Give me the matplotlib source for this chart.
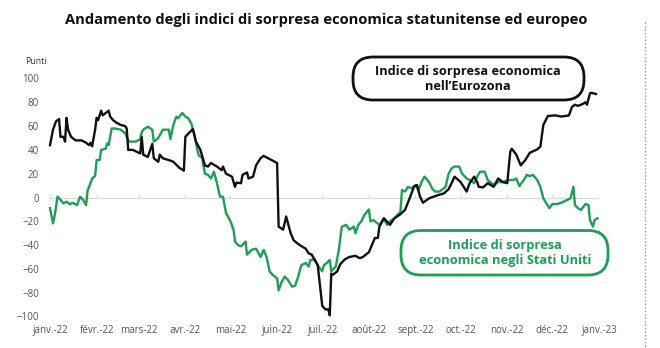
import numpy as np
import pandas as pd
from matplotlib import pyplot as plt
from matplotlib.patches import FancyBboxPatch
from matplotlib.lines import Line2D

plt.rcParams['font.family'] = ['Open Sans', 'DejaVu Sans']

# giorni dal 1 gennaio 2022 e valori
giorni_eur = [0, 2, 4, 6, 7, 9, 10, 11, 12, 14, 17, 21, 24, 26, 27, 28, 30, 31, 32, 34,
              35, 37, 39, 40, 42, 44, 47, 50, 51, 52, 55, 60, 61, 62, 65, 68, 69, 72, 73, 75,
              80, 82, 86, 89, 90, 93, 95, 97, 100, 103, 105, 107, 111, 114, 115, 117, 121, 123, 124, 127,
              128, 131, 132, 135, 137, 140, 142, 145, 148, 151, 152, 155, 157, 160, 162, 166, 170, 172, 174, 176,
              178, 181, 183, 185, 186, 187, 188, 191, 193, 196, 199, 203, 206, 208, 212, 214, 216, 218, 219, 221,
              222, 226, 229, 233, 236, 239, 242, 244, 246, 248, 252, 255, 258, 262, 265, 267, 269, 273, 277, 279,
              282, 284, 285, 288, 291, 295, 298, 301, 304, 306, 307, 310, 313, 316, 319, 324, 326, 328, 331, 336,
              340, 345, 347, 349, 351, 354, 356, 357, 359, 360, 363]
valori_eur = [44, 57, 64, 66, 51, 51, 47, 67, 57, 51, 48, 48, 46, 44, 46, 43, 57, 67, 65, 73,
              69, 71, 73, 68, 65, 63, 61, 60, 58, 40, 40, 37, 51, 36, 34, 45, 33, 30, 36, 33,
              31, 30, 25, 22.5, 51, 55, 57.5, 47, 40, 27, 26, 29, 26, 23, 26, 20, 17.5, 9, 12.5, 12,
              19, 21, 16, 17.5, 27, 33, 35, 33, 31, 29, -24.5, -27, -16, -30, -36, -40, -43, -47, -48, -52.5,
              -57, -91, -94, -94, -99, -64, -65, -62, -56, -52, -50, -49, -51, -50, -46, -40, -34, -34, -24.5, -20,
              -17.5, -23, -17.5, -14, -10.5, -1, 9, 10.5, 0.7, -4.4, -0.7, 0.7, 2, 3.5, 7, 12, 17.5, 13, 5, 12,
              17.5, 13, 9, 8.5, 12, 9, 16, 13, 12, 38.5, 41, 36, 27, 31.5, 37.6, 40.5, 42.7, 61, 68.5, 69,
              68, 69, 76, 78, 77, 78.5, 80, 78, 87.5, 88, 87]

giorni_usa = [0, 2, 3, 5, 7, 9, 11, 13, 15, 18, 20, 22, 24, 25, 26, 28, 30, 31, 33, 34,
              37, 38, 39, 41, 43, 47, 50, 52, 53, 57, 60, 61, 62, 65, 68, 69, 72, 75, 79, 80,
              82, 84, 85, 88, 90, 92, 94, 95, 96, 98, 99, 101, 102, 103, 105, 107, 109, 111, 113, 115,
              117, 120, 122, 123, 125, 127, 130, 131, 134, 137, 140, 142, 144, 146, 148, 151, 152, 154, 156, 158,
              161, 163, 165, 167, 170, 172, 173, 176, 178, 181, 182, 184, 186, 187, 190, 192, 194, 197, 199, 202,
              203, 205, 207, 209, 212, 213, 215, 217, 219, 222, 224, 226, 229, 233, 234, 236, 238, 240, 243, 245,
              247, 249, 252, 254, 256, 259, 263, 265, 267, 269, 272, 274, 277, 279, 282, 284, 286, 289, 291, 295,
              298, 301, 305, 308, 310, 312, 315, 317, 319, 321, 324, 326, 328, 330, 332, 334, 337, 340, 344, 346,
              348, 349, 351, 353, 356, 358, 359, 361, 362, 364]
valori_usa = [-9, -21.7, -16, 0.7, -2, -5, -3.5, -5.5, -4.5, -6.3, 0.7, -2, -6.3, 6, 9, 16, 18, 31.5, 31.5, 40,
              41, 45.5, 44, 58, 58, 57, 54, 48, 47, 47, 49, 55, 57, 59.5, 57, 47, 50, 57, 57, 49,
              61, 68, 66.5, 71, 68, 66.5, 62, 57, 52.5, 40, 35, 34, 27, 20, 19, 16, 21.7, 12, 0.7, 0.7,
              -13, -20, -27, -37, -40, -41, -37, -48, -44, -43, -50, -44, -50, -62, -65, -68, -78, -71, -66.5, -69,
              -75, -74, -66.5, -57, -55, -58, -52.5, -52, -57, -62, -57, -55, -52.5, -62, -58, -44, -24.5, -23, -27, -24.5,
              -30, -23, -20, -14.7, -10, -20, -19, -21, -23, -17.5, -23, -20, -17.5, -12, 6.3, 5, 9, 7.7, 10.5, 6.3,
              13, 17.5, 13, 7.7, 5, 5, 9, 20, 24.5, 26, 26, 20, 16, 14.7, 12, 17.5, 21.7, 21.7, 14.7, 10.5,
              13, 13, 14.7, 14.7, 16, 9.7, 14.7, 19, 18, 19, 14.7, 9, -0.7, -5, -9, -5.5, -5.5, -4.4, -2, -0.7,
              9, -6.3, -9, -10.5, -5.5, -6.3, -19, -24.5, -19, -17.5]

mesi = ['janv.-22', 'févr.-22', 'mars-22', 'avr.-22', 'mai-22', 'juin-22', 'juil.-22',
        'août-22', 'sept.-22', 'oct.-22', 'nov.-22', 'déc.-22', 'janv.-23']
y_ticks = [-100, -80, -60, -40, -20, 0, 20, 40, 60, 80, 100]

start = pd.Timestamp('2022-01-01')
date_eur = start + pd.to_timedelta(giorni_eur, unit='D')
date_usa = start + pd.to_timedelta(giorni_usa, unit='D')
mesi_pos = pd.date_range('2022-01-01', periods=13, freq='MS')

nero = '#111111'
verde = '#1e9e57'
grigio = '#555555'

W, H = 660, 348
fig = plt.figure(figsize=(W / 100, H / 100), dpi=100, facecolor='white')

# asse principale in pixel: x 50..599, y 78.5..316.5
ax = fig.add_axes([50 / W, (H - 316.5) / H, 549 / W, 238 / H])
ax.set_xlim(mesi_pos[0], mesi_pos[-1])
ax.set_ylim(-100, 100)
for s in ax.spines.values():
    s.set_visible(False)

ax.axhline(0, color='#d9d9d9', lw=0.9, zorder=1)
ax.vlines(mesi_pos, 0, 2.5, color='#d9d9d9', lw=0.9, zorder=1)

ax.plot(date_usa, valori_usa, color=verde, lw=1.7, zorder=3, clip_on=False)
ax.plot(date_eur, valori_eur, color=nero, lw=1.7, zorder=4, clip_on=False)

ax.set_xticks(mesi_pos)
ax.set_xticklabels(mesi)
ax.set_yticks(y_ticks)
ax.tick_params(axis='both', length=0, labelsize=7, labelcolor=grigio)
ax.tick_params(axis='y', pad=8)
ax.tick_params(axis='x', pad=6)

# livello di sovrapposizione in pixel per titolo, etichette e riquadri
ov = fig.add_axes([0, 0, 1, 1], facecolor='none')
ov.set_xlim(0, W)
ov.set_ylim(H, 0)
ov.axis('off')

ov.text(326, 20, 'Andamento degli indici di sorpresa economica statunitense ed europeo',
        ha='center', va='center', fontsize=10.6, fontweight='bold', color='#111111')
ov.text(25, 61, 'Punti', ha='left', va='center', fontsize=6.3, color='#333333')

ov.add_line(Line2D([645, 645], [22, H], color='#999999', lw=1, ls=(0, (1, 1.5))))

box_eur = FancyBboxPatch((353, 57), 231, 43, boxstyle='round,pad=0,rounding_size=20',
                         fc='white', ec=nero, lw=2)
ov.add_patch(box_eur)
ov.text(468, 79, 'Indice di sorpresa economica\nnell\u2019Eurozona', ha='center', va='center',
        fontsize=9.2, fontweight='bold', color=nero, linespacing=1.25)

box_usa = FancyBboxPatch((401, 230.5), 207, 44.5, boxstyle='round,pad=0,rounding_size=20',
                         fc='white', ec=verde, lw=2)
ov.add_patch(box_usa)
ov.text(505, 253, 'Indice di sorpresa\neconomica negli Stati Uniti', ha='center', va='center',
        fontsize=9.3, fontweight='bold', color=verde, linespacing=1.25)

fig.savefig('out.png', dpi=100, facecolor='white')
